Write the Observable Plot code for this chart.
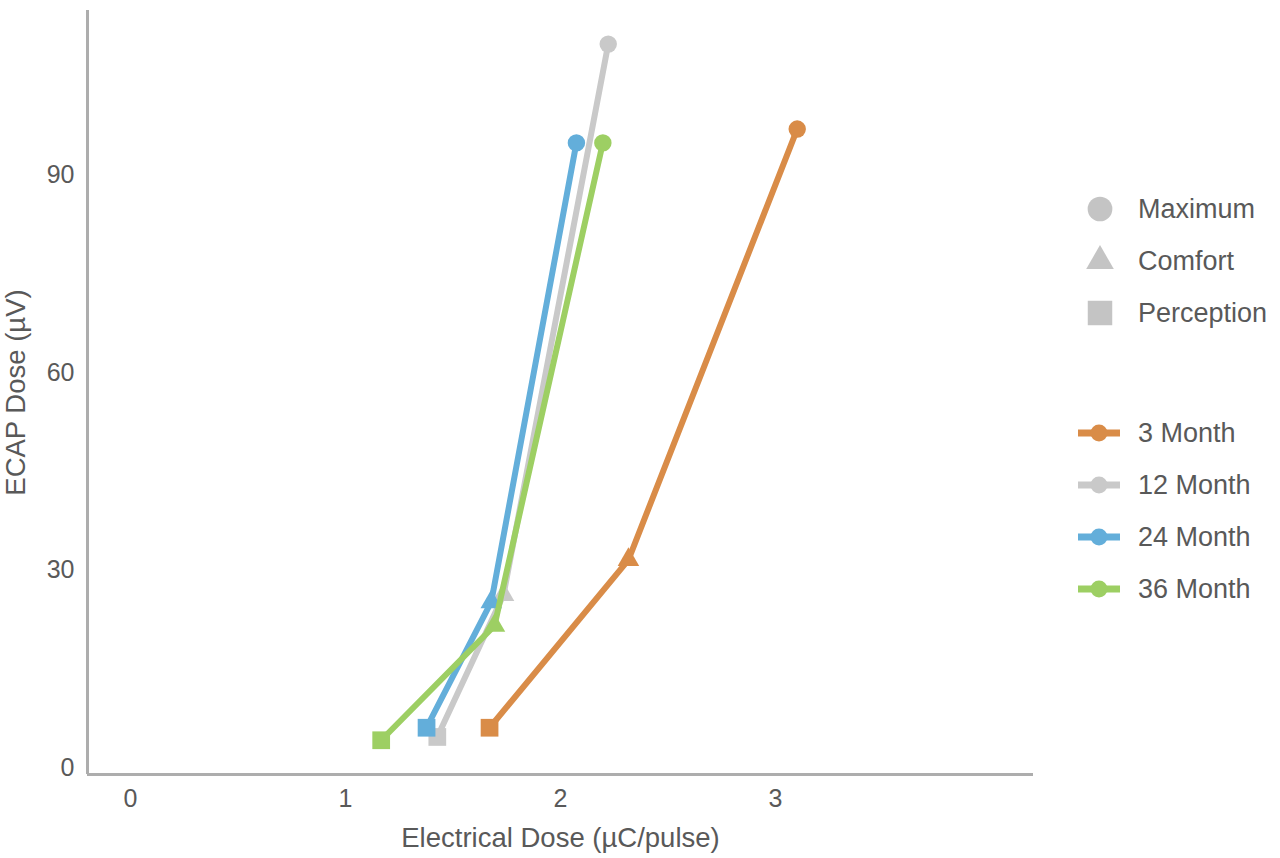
<!DOCTYPE html>
<html>
<head>
<meta charset="utf-8">
<script src="https://cdn.jsdelivr.net/npm/d3@7"></script>
<script src="https://cdn.jsdelivr.net/npm/@observablehq/plot@0.6"></script>
<style>
  html, body { margin: 0; padding: 0; background: #fff; }
  #wrap { position: relative; width: 1280px; height: 858px; font-family: "Liberation Sans", Arial, sans-serif; }
  #legend { position: absolute; left: 0; top: 0; width: 1280px; height: 858px; pointer-events: none; }
  .item { position: absolute; left: 1074px; height: 40px; display: flex; align-items: center; color: #595959; font-size: 27px; }
  .item svg { width: 52px; height: 40px; margin-right: 12px; }
</style>
</head>
<body>
<div id="wrap"><div id="chart"></div><div id="legend"></div></div>
<script>
// ---- data ----
const months = ["3 Month", "12 Month", "24 Month", "36 Month"];
const monthColors = ["#D98C48", "#C9C9C9", "#63AEDA", "#9DCF63"];
const levels = ["Perception", "Comfort", "Maximum"];
const legendLevels = ["Maximum", "Comfort", "Perception"];
const levelSymbols = {Perception: "square", Comfort: "triangle", Maximum: "circle"};
const levelRadius = {Perception: 10, Comfort: 8, Maximum: 8.7};

// electrical dose (µC/pulse) for Perception, Comfort, Maximum
const dose3  = [1.670, 2.316, 3.101];
const dose12 = [1.427, 1.735, 2.222];
const dose24 = [1.377, 1.678, 2.074];
const dose36 = [1.166, 1.693, 2.197];
// ECAP dose (µV) for Perception, Comfort, Maximum
const ecap3  = [6.1, 31.6, 97.0];
const ecap12 = [4.7, 26.3, 109.9];
const ecap24 = [6.1, 25.2, 94.9];
const ecap36 = [4.2, 21.6, 94.9];

const xTicks = [0, 1, 2, 3];
const yTicks = [0, 30, 60, 90];

const doses = [dose3, dose12, dose24, dose36];
const ecaps = [ecap3, ecap12, ecap24, ecap36];

const rows = [];
months.forEach((m, i) => levels.forEach((l, j) => rows.push({month: m, level: l, dose: doses[i][j], ecap: ecaps[i][j]})));

const marks = [
  Plot.ruleY([-1], {stroke: "#ADADAD", strokeWidth: 3}),
  Plot.ruleX([-0.2], {stroke: "#ADADAD", strokeWidth: 3}),
  Plot.axisX({ticks: xTicks, tickFormat: d3.format("d"), tickSize: 0, tickPadding: 15, fontSize: 25, fill: "#595959", label: null}),
  Plot.axisX({ticks: [], tickSize: 0, fontSize: 27.5, fill: "#595959",
    label: "Electrical Dose (µC/pulse)", labelAnchor: "center", labelArrow: "none", labelOffset: 72}),
  Plot.axisY({ticks: yTicks, tickSize: 0, tickPadding: 13, fontSize: 25, fill: "#595959", label: null}),
  Plot.axisY({ticks: [], tickSize: 0, fontSize: 27.5, fill: "#595959",
    label: "ECAP Dose (µV)", labelAnchor: "center", labelArrow: "none", labelOffset: 82})
];
months.forEach((m, i) => {
  const sub = rows.filter(d => d.month === m);
  marks.push(Plot.line(sub, {x: "dose", y: "ecap", stroke: monthColors[i], strokeWidth: 6}));
  levels.forEach(l => {
    marks.push(Plot.dot(sub.filter(d => d.level === l), {x: "dose", y: "ecap", symbol: () => levelSymbols[l], fill: monthColors[i], r: levelRadius[l]}));
  });
});

const chart = Plot.plot({
  width: 1050,
  height: 858,
  marginLeft: 87,
  marginRight: 17,
  marginTop: 10,
  marginBottom: 84,
  style: {fontFamily: "'Liberation Sans', Arial, sans-serif", fontSize: "26px", color: "#595959", background: "#fff"},
  x: {domain: [-0.2, 4.2], label: null},
  y: {domain: [-1, 115], label: null},
  symbol: {type: "identity"},
  marks
});
document.getElementById("chart").appendChild(chart);

// ---- legend ----
const legend = document.getElementById("legend");
const ns = "http://www.w3.org/2000/svg";
function addItem(top, label, drawIcon) {
  const div = document.createElement("div");
  div.className = "item";
  div.style.top = (top - 20) + "px";
  const svg = document.createElementNS(ns, "svg");
  svg.setAttribute("viewBox", "0 0 52 40");
  drawIcon(svg);
  div.appendChild(svg);
  const span = document.createElement("span");
  span.textContent = label;
  div.appendChild(span);
  legend.appendChild(div);
}
const symPaths = {
  circle: d3.symbol(d3.symbolCircle, 480)(),
  triangle: d3.symbol(d3.symbolTriangle, 330)(),
  square: d3.symbol(d3.symbolSquare, 600)()
};
legendLevels.forEach((l, k) => {
  addItem(209 + k * 52, l, svg => {
    const p = document.createElementNS(ns, "path");
    p.setAttribute("d", symPaths[levelSymbols[l]]);
    p.setAttribute("transform", "translate(26,20)");
    p.setAttribute("fill", "#C4C4C4");
    svg.appendChild(p);
  });
});
months.forEach((m, i) => {
  addItem(433 + i * 52, m, svg => {
    const ln = document.createElementNS(ns, "line");
    ln.setAttribute("x1", 4); ln.setAttribute("x2", 46);
    ln.setAttribute("y1", 20); ln.setAttribute("y2", 20);
    ln.setAttribute("stroke", monthColors[i]); ln.setAttribute("stroke-width", 7);
    svg.appendChild(ln);
    const c = document.createElementNS(ns, "circle");
    c.setAttribute("cx", 25); c.setAttribute("cy", 20); c.setAttribute("r", 8.5);
    c.setAttribute("fill", monthColors[i]);
    svg.appendChild(c);
  });
});
</script>
</body>
</html>
